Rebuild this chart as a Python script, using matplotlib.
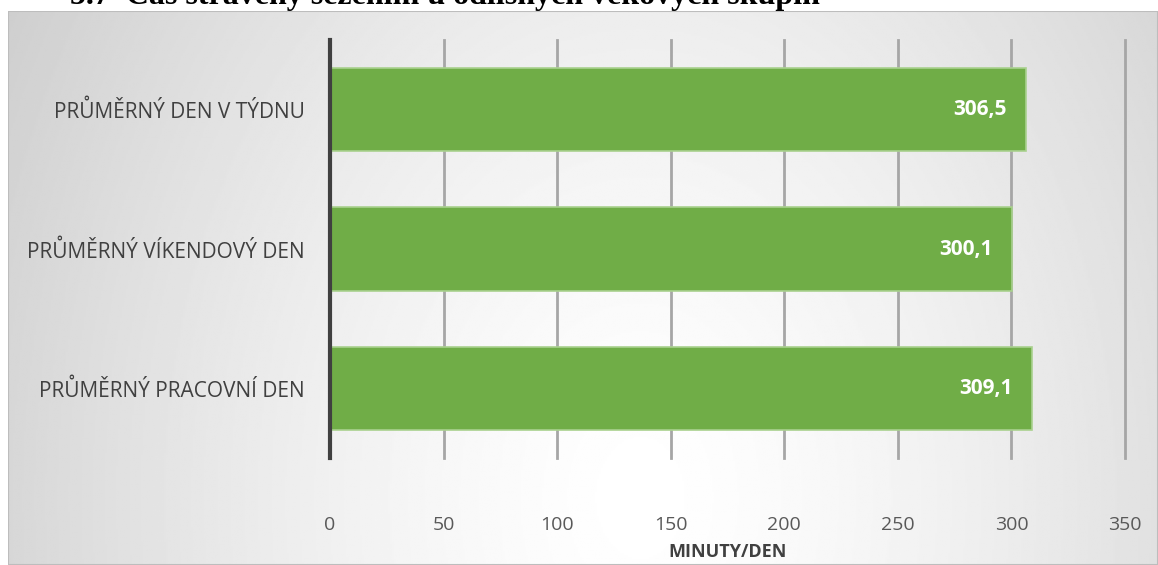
import numpy as np
import matplotlib
matplotlib.use('Agg')
import matplotlib.pyplot as plt
from matplotlib.patches import Rectangle

categories = ['PRŮMĚRNÝ DEN V TÝDNU', 'PRŮMĚRNÝ VÍKENDOVÝ DEN', 'PRŮMĚRNÝ PRACOVNÍ DEN']
values = [306.5, 300.1, 309.1]
value_labels = ['306,5', '300,1', '309,1']
xticks = [0, 50, 100, 150, 200, 250, 300, 350]

W, H = 1158, 565
fig = plt.figure(figsize=(W / 100, H / 100), dpi=100)
fig.patch.set_facecolor('white')

# radial grey gradient behind the chart frame
bg = fig.add_axes([8 / W, 0, 1 - 8 / W, 1 - 11 / H])
yy, xx = np.mgrid[0:1:300j, 0:1:600j]
r = np.sqrt(((xx - 0.55) / 0.7) ** 2 + ((yy - 0.12) / 2.0) ** 2)
shade = np.clip(1 - 0.22 * r ** 1.4, 0.77, 1.0)
bg.imshow(shade, cmap='gray', vmin=0, vmax=1, aspect='auto',
          extent=[0, 1, 0, 1], origin='lower')
bg.add_patch(Rectangle((0, 0), 1, 1, fill=False, edgecolor='#bdbdbd', lw=1.5,
                       transform=bg.transAxes))
bg.axis('off')

# heading from the page above, cut off at the top edge as in the source
fig.text(70 / W, 1 - 4 / H, '5.7  Čas strávený sezením u odlišných věkových skupin',
         family='Liberation Serif', fontweight='bold', fontsize=23,
         ha='left', va='baseline', color='black')

ax = fig.add_axes([330 / W, 1 - 458 / H, (1125 - 330) / W, (458 - 40) / H])
ax.patch.set_alpha(0)

y = np.arange(len(categories))
bars = ax.barh(y, values, height=0.6, color='#70AD47', edgecolor='#A9D18E',
               linewidth=1.2, zorder=3)
ax.set_ylim(2.5, -0.5)
ax.set_xlim(0, 350)

for b, lab in zip(bars, value_labels):
    ax.text(b.get_width() - 8.5, b.get_y() + b.get_height() / 2, lab,
            ha='right', va='center', color='white', fontsize=15,
            fontweight='bold', family='Open Sans', zorder=4)

ax.set_xticks(xticks)
ax.set_xticklabels([str(t) for t in xticks], family='Open Sans', fontsize=14,
                   color='#595959')
ax.set_yticks(y)
ax.set_yticklabels(categories, family='Open Sans', fontsize=15, color='#404040')
ax.tick_params(axis='x', length=0, pad=42)
ax.tick_params(axis='y', length=0, pad=18)
ax.grid(axis='x', color='#a6a6a6', linewidth=2, zorder=1)
for gl in ax.get_xgridlines():
    gl.set_clip_on(False)
for s in ['top', 'right', 'bottom']:
    ax.spines[s].set_visible(False)
ax.spines['left'].set_color('#404040')
ax.spines['left'].set_linewidth(3)
ax.spines['left'].set_zorder(5)

ax.set_xlabel('MINUTY/DEN', family='Open Sans', fontsize=13, fontweight='bold',
              color='#404040', labelpad=6)

fig.savefig('out.png', dpi=100)
